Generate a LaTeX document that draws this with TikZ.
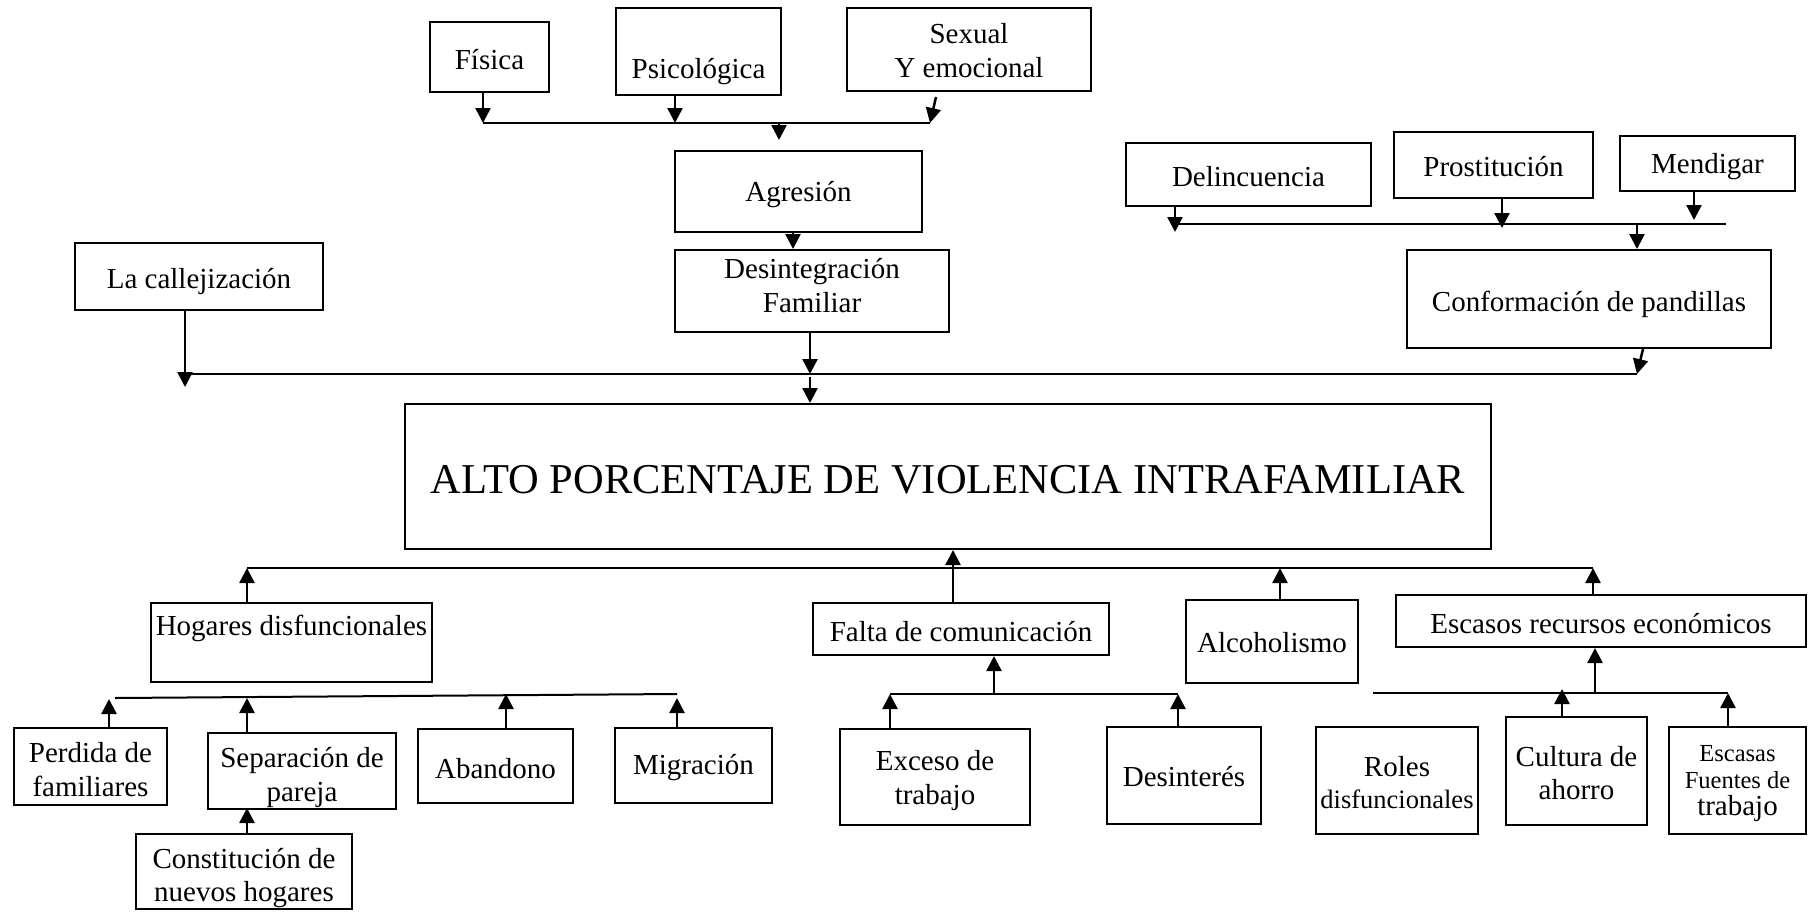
\documentclass[tikz,border=0pt]{standalone}
\usepackage{fontspec}
\setmainfont{Liberation Serif}
\usetikzlibrary{arrows.meta,calc}
% #1 name, #2-#5 corners, #6 text options, #7 text, #8 vertical text offset
\newcommand{\mkbox}[8]{%
  \node[box, minimum width={#4-#2}, minimum height={#5-#3}] (#1) at ({(#2+#4)/2},{(#3+#5)/2}) {};
  \node[txt, #6] (#1-t) at ({(#2+#4)/2},{(#3+#5)/2+#8}) {#7};}
\begin{document}
\begin{tikzpicture}[x=1pt,y=-1pt,
  box/.style={draw, line width=2pt, inner sep=0pt},
  txt/.style={inner sep=0pt, align=center, font=\fontsize{29}{33.5}\selectfont},
  arr/.style={line width=2.5pt, -{Triangle[length=15pt,width=15pt]}},
  bus/.style={line width=2pt}]
\useasboundingbox (0,0) rectangle (1809,911);
% boxes
\mkbox{fis}{430}{22}{549}{92}{}{Física}{2.3}
\mkbox{psi}{616}{8}{781}{95}{}{Psicológica}{20.5}
\mkbox{sex}{847}{8}{1091}{91}{}{Sexual\\Y emocional}{1.2}
\mkbox{agr}{675}{151}{922}{232}{}{Agresión}{3.5}
\mkbox{des}{675}{250}{949}{332}{}{Desintegración\\Familiar}{-5.5}
\mkbox{cal}{75}{243}{323}{310}{}{La callejización}{4.6}
\mkbox{del}{1126}{143}{1371}{206}{}{Delincuencia}{2.3}
\mkbox{pro}{1394}{132}{1593}{198}{}{Prostitución}{1.2}
\mkbox{men}{1620}{136}{1795}{191}{}{Mendigar}{3.5}
\mkbox{con}{1407}{250}{1771}{348}{}{Conformación de pandillas}{5.8}
\mkbox{main}{405}{404}{1491}{549}{font=\fontsize{42.5}{50}\selectfont}{ALTO PORCENTAJE DE VIOLENCIA INTRAFAMILIAR}{3.5}
\mkbox{hog}{151}{603}{432}{682}{}{Hogares disfuncionales}{-14}
\mkbox{fal}{813}{603}{1109}{655}{}{Falta de comunicación}{2.3}
\mkbox{alc}{1186}{600}{1358}{683}{}{Alcoholismo}{1.2}
\mkbox{esc}{1396}{595}{1806}{647}{}{Escasos recursos económicos}{2.3}
\mkbox{per}{14}{728}{167}{805}{}{Perdida de\\familiares}{2.9}
\mkbox{sep}{208}{733}{396}{809}{}{Separación de\\pareja}{6.3}
\mkbox{aba}{418}{729}{573}{803}{}{Abandono}{2.3}
\mkbox{mig}{615}{728}{772}{803}{}{Migración}{2.3}
\mkbox{cons}{136}{834}{352}{909}{}{Constitución de\\nuevos hogares}{6.3}
\mkbox{exc}{840}{729}{1030}{825}{}{Exceso de\\trabajo}{3.5}
\mkbox{dsi}{1107}{727}{1261}{824}{}{Desinterés}{1.2}
\mkbox{rol}{1316}{727}{1478}{834}{font=\fontsize{29}{32}\selectfont}{Roles\\{\fontsize{26.5}{32}\selectfont disfuncionales}}{2.3}
\mkbox{cul}{1506}{717}{1647}{825}{}{Cultura de\\ahorro}{2.3}
\mkbox{eft}{1669}{727}{1806}{834}{font=\fontsize{29}{27}\selectfont}{{\fontsize{24.5}{27}\selectfont Escasas}\\{\fontsize{24.5}{27}\selectfont Fuentes de}\\{\fontsize{29}{27}\selectfont trabajo}}{3}
% top group
\coordinate (tL) at (483,123); \coordinate (tR) at (930,123);
\coordinate (p1) at (675,123); \coordinate (p2) at (779,123);
\draw[bus] (tL) -- (tR);
\draw[arr] (fis.south -| tL) -- (tL);
\draw[arr] (psi.south -| p1) -- (p1);
\draw[arr] ($(sex.south)+(-33,5)$) -- (tR);
\draw[arr] (p2) -- ++(0,17);
\draw[arr] ($(agr.south)+(-5.5,0)$) -- ($(des.north)+(-19,0)$);
% main line
\coordinate (mL) at (185,374); \coordinate (mR) at (1637,374); \coordinate (m1) at (810,374);
\draw[bus] (mL) -- (mR);
\draw[arr] (des.south -| m1) -- (m1);
\draw[arr] ($(m1)+(0,3)$) -- (main.north -| m1);
\draw[arr] (cal.south -| mL) -- ($(mL)+(0,13)$);
% right group
\coordinate (rL) at (1175,224); \coordinate (rR) at (1726,224);
\coordinate (r1) at (1502,224); \coordinate (r2) at (1694,224); \coordinate (r3) at (1637,224);
\draw[bus] (rL) -- (rR);
\draw[arr] (del.south -| rL) -- ($(rL)+(0,8)$);
\draw[arr] (pro.south -| r1) -- ($(r1)+(0,4)$);
\draw[arr] (men.south -| r2) -- ($(r2)+(0,-4)$);
\draw[arr] (r3) -- (con.north -| r3);
\draw[arr] ($(con.south)+(54,0)$) -- (mR);
% bottom branch
\coordinate (bL) at (247,568); \coordinate (bR) at (1593,568); \coordinate (b1) at (1280,568);
\draw[bus] (bL) -- (bR);
\draw[arr] (hog.north -| bL) -- (bL);
\draw[arr] ($(fal.north)+(-8,0)$) -- ($(main.south)+(5,0)$);
\draw[arr] (alc.north -| b1) -- (b1);
\draw[arr] (esc.north -| bR) -- (bR);
% hogares sub
\coordinate (hL) at (115,698); \coordinate (hR) at (677,694);
\draw[bus] (hL) -- (hR);
\draw[arr] ($(per.north)+(18.5,0)$) -- ++(0,-28);
\draw[arr] ($(sep.north)+(-55,0)$) -- ++(0,-34);
\draw[arr] ($(aba.north)+(10.5,0)$) -- ++(0,-34);
\draw[arr] ($(mig.north)+(-16.5,0)$) -- ++(0,-29);
\draw[arr] ($(cons.north)+(3,0)$) -- ($(sep.south)+(-55,-2)$);
% falta sub
\coordinate (fL) at (890,694); \coordinate (fR) at (1178,694); \coordinate (f1) at (994,694);
\draw[bus] (fL) -- (fR);
\draw[arr] (f1) -- (fal.south -| f1);
\draw[arr] (exc.north -| fL) -- (fL);
\draw[arr] (dsi.north -| fR) -- (fR);
% escasos sub
\coordinate (eL) at (1373,693); \coordinate (eR) at (1728,693);
\coordinate (e1) at (1595,693); \coordinate (e2) at (1562,693);
\draw[bus] (eL) -- (eR);
\draw[arr] (e1) -- (esc.south -| e1);
\draw[arr] (cul.north -| e2) -- ($(e2)+(0,-4)$);
\draw[arr] (eft.north -| eR) -- (eR);
\end{tikzpicture}
\end{document}
